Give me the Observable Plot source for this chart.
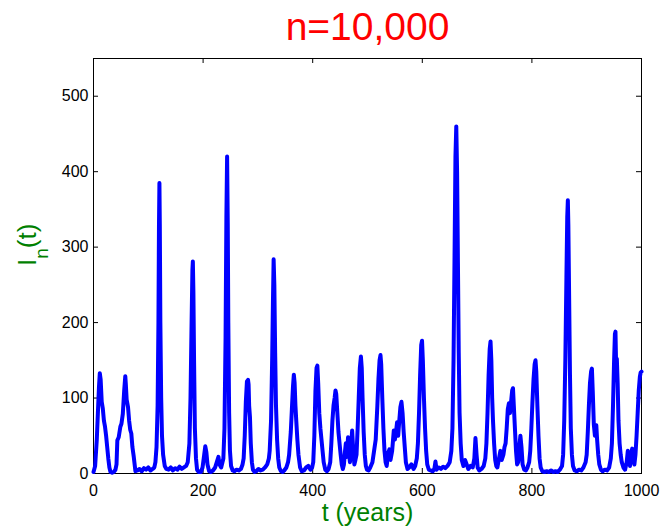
<!DOCTYPE html>
<html>
<head>
<meta charset="utf-8">
<script src="https://cdn.jsdelivr.net/npm/d3@7"></script>
<script src="https://cdn.jsdelivr.net/npm/@observablehq/plot@0.6"></script>
<style>
  html, body { margin: 0; padding: 0; background: #ffffff; }
  #chart svg { display: block; }
</style>
</head>
<body>
<div id="chart"></div>
<script>
// Time (years) and number infected I_n(t)
const years = [
  0,3,6,8,10,11.5,13,15,17,19,21,23,25,27,29,31,34,37,40,
  42,43.5,46,49,51,53.5,56,58,59,60.5,63,65,67,69,71,73.5,76.5,
  80,84,88,92,96,100,104,108,111,
  113,115,117,118.5,119.5,120.3,121,122,123.5,125,127,130,133,
  137,141,145,149,153,157,161,165,169,
  172,175,177,179,180.5,181.3,182.3,183.5,185,187,189,192,
  196,199,202,204,206,208,211,214,218,222,225,228,230,233,235,
  237,239,241,242.5,243.8,245,246,247.5,249,251,254,
  257,261,265,269,272,274,276,278,280,282,283,284,285.5,287,289,291,294,
  297,301,305,309,313,317,320,321.5,324,326,327.5,328.7,330,331.5,333,335,337,339,342,
  345,348,352,355,357,360,362,364,365.6,367,368.5,370,372,374,377,380,
  384,388,392,396,399,401,403,405,407,408.5,410,412,414,416,418,420,423,
  426,429,432,434,436,438,440,441.6,443,445,447,449,451,453,455,
  457,459,460.5,462,464.5,466.5,468,470,472,474,476,478,
  480,482,484,486,488,489.5,491,493,495,497,499,502,505,509,512,
  515,518,520,522,523.7,525,527,529,531,533,
  535,538,540,542,545,548,550,552,554,556,558,560,562,564,566,568,570,573,
  576,580,584,587,590,592,594,596,598,599.5,601,603,605,607,609,612,
  615,619,622,624,626,630,634,638,642,646,650,653,
  655,657,659,660.5,662,663.5,665,666.5,668,670,672,675,
  678,681,684,688,692,695,697,699,701,704,708,712,715,
  717,719,721,723,724.5,726,727.5,729,731,733,735,
  737,740,742.5,745,748,750,752,754,756,758,760,762,764,765.5,767,769,771,773,
  775,777,779,781,783,786,789,792,795,
  797,799,801,803,805,806.6,808,810,812,814,816,819,
  823,827,831,835,839,843,847,851,855,
  857,859,861,863,864.5,865.6,866.5,868,869.5,871,873,875,878,
  882,886,890,894,898,
  900,902,904,906,908,909.5,911,913,915,917.5,919,921,923,926,
  929,933,937,941,944,
  946,948,950,951.5,952.5,953.5,955,956.5,958,960,962,964,967,
  970,973,975,977,979,981,983,985,987,989,991,993,995,997,998.5,1000
];
const infected = [
  2,10,45,80,115,133,125,95,86,70,62,50,35,20,8,2,1,2,5,
  12,44,48,62,66,79,110,129,118,98,88,70,58,53,35,22,3,
  4,6,3,7,5,8,4,6,8,
  15,35,90,200,330,385,330,200,100,50,25,10,6,
  5,8,4,7,5,9,6,8,10,
  15,40,100,200,270,281,240,150,60,20,5,2,
  2,8,25,36,28,12,3,2,4,8,15,22,12,8,14,
  20,60,180,340,420,330,200,80,30,10,4,
  3,5,4,6,12,20,50,95,122,124,118,90,75,40,15,5,2,
  3,6,4,5,8,12,20,30,70,150,230,284,250,160,90,45,20,8,3,
  2,4,8,15,25,55,85,115,131,120,90,70,45,25,8,3,
  4,8,10,5,8,15,50,110,140,143,120,80,60,45,30,15,5,
  3,6,15,40,70,90,100,110,105,80,55,40,25,12,6,
  12,30,40,22,48,25,15,35,57,30,12,18,
  25,60,100,140,155,140,100,55,25,10,5,4,8,15,30,
  45,90,125,150,157,145,100,60,30,15,
  10,28,32,18,30,57,45,55,68,50,70,88,95,80,55,35,15,6,
  8,12,6,10,20,40,80,130,170,176,150,100,60,30,12,5,
  4,3,6,16,5,8,6,9,7,10,15,30,
  60,150,300,420,460,400,280,160,80,40,18,10,
  18,12,6,10,8,20,47,25,8,4,6,10,20,
  40,80,130,165,175,150,100,70,40,18,10,
  8,20,30,18,25,35,40,60,85,93,80,95,110,113,90,60,30,12,
  15,35,50,35,12,5,4,8,15,
  30,60,95,125,145,150,135,90,50,20,8,3,
  2,3,2,4,2,3,2,5,10,
  25,70,150,260,340,362,330,230,130,60,25,10,4,
  3,5,4,8,15,
  25,55,90,120,135,139,110,65,50,64,45,25,12,5,
  3,5,4,8,20,
  40,90,150,185,188,150,152,120,70,40,25,15,8,
  5,15,30,20,10,25,33,18,12,25,50,80,110,128,134,135
];
const xTicks = [0, 200, 400, 600, 800, 1000];
const yTicks = [0, 100, 200, 300, 400, 500];
const titleText = "n=10,000";
const xLabel = "t (years)";
const yLabelMain = "I";
const yLabelSub = "n";
const yLabelTail = "(t)";

if (years.length !== infected.length) console.error("length mismatch", years.length, infected.length);
const data = years.map((t, i) => ({t, v: infected[i]}));

const W = 662, H = 528, mL = 93, mR = 21, mT = 58, mB = 55;
const innerW = W - mL - mR, innerH = H - mT - mB;
const font = "'Liberation Sans', Arial, Helvetica, sans-serif";

const chart = Plot.plot({
  width: W, height: H,
  marginLeft: mL, marginRight: mR, marginTop: mT, marginBottom: mB,
  style: {fontFamily: font, fontSize: "16px", color: "black", background: "white", overflow: "visible"},
  x: {domain: [0, 1000], ticks: xTicks, tickSize: 0, tickPadding: 11, tickFormat: d => String(d), label: null},
  y: {domain: [0, 550], ticks: yTicks, tickSize: 0, tickPadding: 5, tickFormat: d => String(d), label: null},
  marks: [
    Plot.frame({stroke: "black", strokeWidth: 1}),
    Plot.ruleX(xTicks, {x: d => d, stroke: "black", insetTop: innerH - 5}),
    Plot.ruleX(xTicks, {x: d => d, stroke: "black", insetBottom: innerH - 5}),
    Plot.ruleY(yTicks, {y: d => d, stroke: "black", insetRight: innerW - 5}),
    Plot.ruleY(yTicks, {y: d => d, stroke: "black", insetLeft: innerW - 5}),
    Plot.line(data, {x: "t", y: "v", stroke: "#0000ff", strokeWidth: 4, strokeLinejoin: "round", strokeLinecap: "round"}),
    Plot.text([titleText], {text: d => d, frameAnchor: "top", dy: -19, lineAnchor: "bottom", fontSize: 39, fill: "#ff0000"}),
    Plot.text([xLabel], {text: d => d, frameAnchor: "bottom", dy: 47, lineAnchor: "bottom", fontSize: 25, fill: "#008000"}),
    Plot.text([yLabelMain + yLabelSub + yLabelTail], {text: d => d, frameAnchor: "left", dx: -58, rotate: -90, lineAnchor: "bottom", fontSize: 26, fill: "#008000"})
  ]
});

// Build subscript for the y label
const full = yLabelMain + yLabelSub + yLabelTail;
const yl = d3.select(chart).selectAll("text").filter(function() { return this.textContent === full; });
yl.text(null);
yl.append("tspan").text(yLabelMain);
yl.append("tspan").attr("dy", 12).attr("font-size", 19).text(yLabelSub);
yl.append("tspan").attr("dy", -12).text(yLabelTail);

document.getElementById("chart").appendChild(chart);
</script>
</body>
</html>
